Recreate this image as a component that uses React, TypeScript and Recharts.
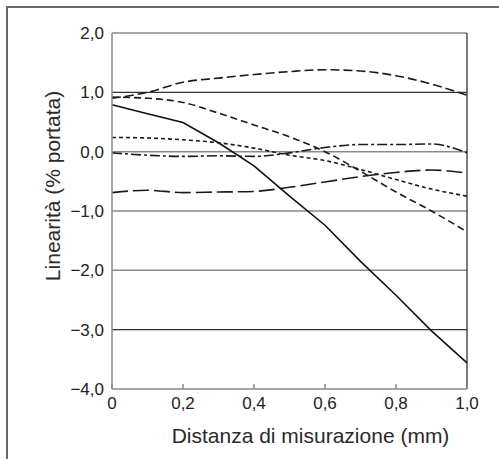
import React from 'react';
import { LineChart, Line, XAxis, YAxis, ReferenceLine } from 'recharts';

const distances = [0, 0.1, 0.2, 0.3, 0.4, 0.5, 0.6, 0.7, 0.8, 0.9, 1.0];
const solidSeries = [0.79, 0.64, 0.49, 0.15, -0.24, -0.75, -1.24, -1.85, -2.42, -3.02, -3.56];
const upperDash = [0.9, 1.0, 1.17, 1.24, 1.3, 1.35, 1.38, 1.36, 1.28, 1.14, 0.95];
const fallingDash = [0.92, 0.9, 0.83, 0.65, 0.45, 0.25, 0.0, -0.33, -0.68, -1.0, -1.35];
const shortDash = [0.24, 0.23, 0.2, 0.15, 0.06, -0.06, -0.15, -0.3, -0.47, -0.63, -0.75];
const dashDot = [-0.02, -0.06, -0.08, -0.07, -0.08, -0.02, 0.07, 0.12, 0.12, 0.13, -0.02];
const lowerDash = [-0.69, -0.65, -0.69, -0.68, -0.67, -0.6, -0.51, -0.42, -0.35, -0.31, -0.36];

const xTicks = [0, 0.2, 0.4, 0.6, 0.8, 1.0];
const yTicks = [-4, -3, -2, -1, 0, 1, 2];
const xTitle = 'Distanza di misurazione (mm)';
const yTitle = 'Linearità (% portata)';

const data = distances.map((d, i) => ({
  d,
  solid: solidSeries[i],
  upper: upperDash[i],
  falling: fallingDash[i],
  short: shortDash[i],
  dashdot: dashDot[i],
  lower: lowerDash[i],
}));

const fmtX = (v: number) => (v === 0 ? '0' : v.toFixed(1).replace('.', ','));
const fmtY = (v: number) => v.toFixed(1).replace('.', ',').replace('-', '\u2212');

const FONT = '"Liberation Sans", Arial, Helvetica, sans-serif';

const XTitle = (props: any) => {
  const vb = props.viewBox || {};
  return (
    <text x={vb.x + vb.width / 2 + 21} y={vb.y + 54} textAnchor="middle" fill="#2a2a2a" fontSize={21} fontFamily={FONT}>
      {xTitle}
    </text>
  );
};

const YTitle = (props: any) => {
  const vb = props.viewBox || {};
  const cx = vb.x + 10;
  const cy = vb.y + vb.height / 2 - 25;
  return (
    <text x={cx} y={cy} transform={`rotate(-90 ${cx} ${cy})`} textAnchor="middle" fill="#2a2a2a" fontSize={21} fontFamily={FONT}>
      {yTitle}
    </text>
  );
};

export default function App() {
  return (
    <div style={{ position: 'absolute', left: 0, top: 0, width: 499, height: 459, fontFamily: FONT }}>
      <div
        style={{
          position: 'absolute',
          left: 6,
          top: 6,
          width: 493,
          height: 453,
          borderLeft: '2px solid #6a6a6a',
          borderTop: '2px solid #6a6a6a',
          boxSizing: 'border-box',
        }}
      />
      <div style={{ position: 'absolute', left: 0, top: 0 }}>
        <LineChart
          width={499}
          height={459}
          data={data}
          margin={{ top: 33, right: 32, bottom: 0, left: 50 }}
        >
          <XAxis
            dataKey="d"
            type="number"
            domain={[0, 1]}
            ticks={xTicks}
            tickFormatter={fmtX}
            stroke="#8a8a8a"
            strokeWidth={1.5}
            tickSize={-5}
            tickMargin={13}
            height={70}
            tick={{ fill: '#222', fontSize: 17, fontFamily: FONT }}
            label={<XTitle />}
          />
          <YAxis
            type="number"
            domain={[-4, 2]}
            ticks={yTicks}
            tickFormatter={fmtY}
            stroke="#8a8a8a"
            strokeWidth={1.5}
            tickLine={false}
            tickSize={0}
            tickMargin={8}
            width={62}
            tick={{ fill: '#222', fontSize: 17, fontFamily: FONT }}
            label={<YTitle />}
          />
          <ReferenceLine y={2} stroke="#8a8a8a" strokeWidth={1.5} />
          <ReferenceLine y={1} stroke="#333" strokeWidth={1.2} />
          <ReferenceLine y={0} stroke="#8a8a8a" strokeWidth={1.5} />
          <ReferenceLine y={-1} stroke="#8a8a8a" strokeWidth={1.5} />
          <ReferenceLine y={-2} stroke="#8a8a8a" strokeWidth={1.5} />
          <ReferenceLine y={-3} stroke="#333" strokeWidth={1.2} />
          <ReferenceLine x={1} stroke="#222" strokeWidth={1.2} />
          <Line dataKey="upper" type="monotone" stroke="#1a1a1a" strokeWidth={1.6} strokeDasharray="9 4" dot={false} isAnimationActive={false} />
          <Line dataKey="falling" type="monotone" stroke="#1a1a1a" strokeWidth={1.6} strokeDasharray="7 4" dot={false} isAnimationActive={false} />
          <Line dataKey="short" type="monotone" stroke="#1a1a1a" strokeWidth={1.6} strokeDasharray="4 3" dot={false} isAnimationActive={false} />
          <Line dataKey="dashdot" type="monotone" stroke="#1a1a1a" strokeWidth={1.6} strokeDasharray="10 3 3 3" dot={false} isAnimationActive={false} />
          <Line dataKey="lower" type="monotone" stroke="#1a1a1a" strokeWidth={1.6} strokeDasharray="16 5" dot={false} isAnimationActive={false} />
          <Line dataKey="solid" type="linear" stroke="#111" strokeWidth={1.6} dot={false} isAnimationActive={false} />
        </LineChart>
      </div>
    </div>
  );
}
